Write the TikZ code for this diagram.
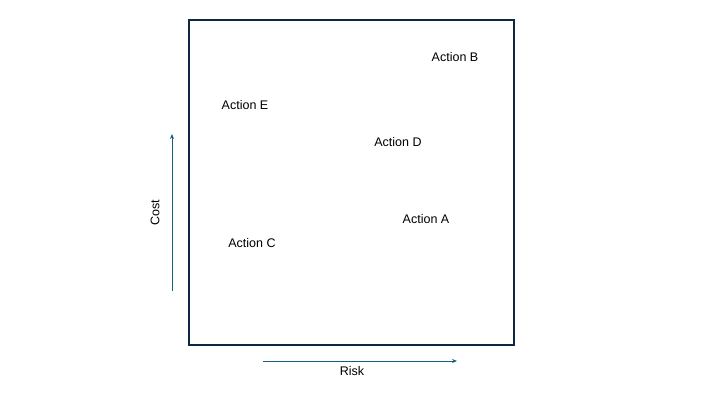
\documentclass[tikz,border=0pt]{standalone}
\usepackage{fontspec}
\setmainfont{Liberation Sans}
\usetikzlibrary{arrows.meta}
\definecolor{framecol}{HTML}{0E2841}
\definecolor{axiscol}{HTML}{156082}
\tikzset{
  action/.style={font=\fontsize{12.5}{14}\selectfont},
  axis/.style={axiscol,line width=0.8pt,-{Stealth[length=5pt,width=4pt]}},
}
\begin{document}
\begin{tikzpicture}[x=1pt,y=-1pt]
  \useasboundingbox (0,0) rectangle (720,405);
  \draw[framecol,line width=1.6pt] (189,20) rectangle (514,345);
  % actions
  \node[action] (b) at (455,57) {Action B};
  \node[action] (e) at (245,105) {Action E};
  \node[action] (d) at (398,142) {Action D};
  \node[action] (a) at (426,219) {Action A};
  \node[action] (c) at (252,243) {Action C};
  % axes
  \coordinate (c0) at (172,291);\coordinate (c1) at (172,134);
  \coordinate (r0) at (263,361);\coordinate (r1) at (457,361);
  \draw[axis] (c0) -- (c1);
  \draw[axis] (r0) -- (r1);
  \node[action,rotate=90] (cost) at (155,213) {Cost};
  \node[action] (risk) at (352,371) {Risk};
\end{tikzpicture}
\end{document}
